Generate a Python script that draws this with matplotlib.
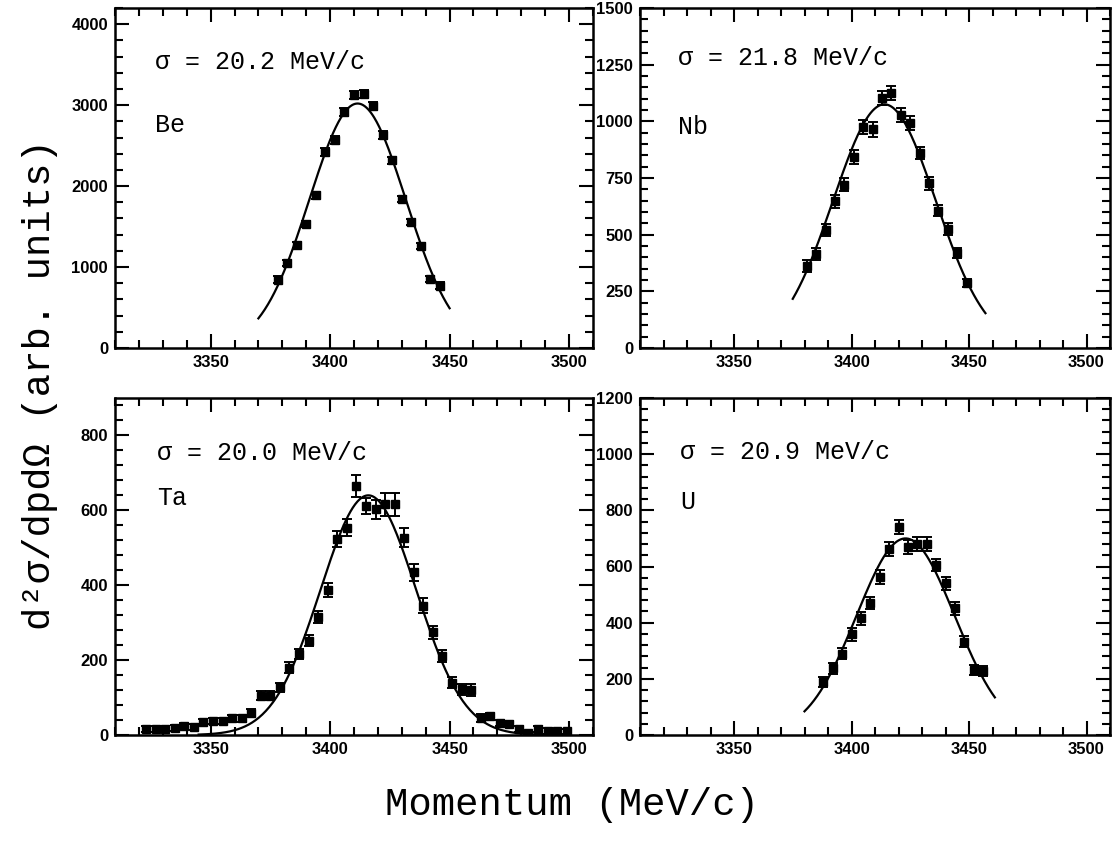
import numpy as np
import matplotlib
matplotlib.use("Agg")
import matplotlib.pyplot as plt
from matplotlib.ticker import MultipleLocator

# ---------------- data ----------------
be_p = [3378, 3382, 3386, 3390, 3394, 3398, 3402, 3406, 3410, 3414, 3418, 3422,
        3426, 3430, 3434, 3438, 3442, 3446]
be_y = [845, 1052, 1270, 1534, 1885, 2420, 2569, 2920, 3126, 3134, 2990, 2631,
        2318, 1843, 1555, 1258, 854, 771]
be_e = [40, 40, 40, 40, 40, 45, 45, 50, 50, 50, 50, 45, 45, 40, 40, 40, 40, 40]

nb_p = [3381, 3385, 3389, 3393, 3397, 3401, 3405, 3409, 3413, 3417, 3421, 3425,
        3429, 3433, 3437, 3441, 3445, 3449]
nb_y = [362, 414, 520, 647, 720, 842, 975, 965, 1104, 1126, 1027, 993,
        860, 727, 606, 525, 421, 288]
nb_e = [25, 25, 28, 28, 28, 30, 32, 32, 32, 32, 30, 30, 28, 28, 25, 25, 22, 18]

ta_p = [3323, 3327, 3331, 3335, 3339, 3343, 3347, 3351, 3355, 3359, 3363, 3367,
        3371, 3375, 3379, 3383, 3387, 3391, 3395, 3399, 3403, 3407, 3411, 3415,
        3419, 3423, 3427, 3431, 3435, 3439, 3443, 3447, 3451, 3455, 3459, 3463,
        3467, 3471, 3475, 3479, 3483, 3487, 3491, 3495, 3499]
ta_y = [15, 15, 15, 20, 25, 22, 35, 38, 38, 45, 45, 60,
        105, 105, 127, 180, 216, 252, 314, 387, 523, 554, 665, 612,
        603, 616, 616, 527, 434, 345, 274, 212, 140, 122, 120, 45,
        50, 32, 30, 15, 5, 15, 12, 10, 10]
ta_e = [8, 8, 8, 8, 8, 8, 8, 8, 8, 9, 9, 10,
        12, 12, 12, 14, 14, 15, 16, 18, 22, 22, 30, 22,
        25, 30, 30, 25, 22, 20, 18, 16, 15, 15, 15, 10,
        10, 8, 8, 8, 6, 8, 8, 6, 6]

u_p = [3388, 3392, 3396, 3400, 3404, 3408, 3412, 3416, 3420, 3424, 3428, 3432,
       3436, 3440, 3444, 3448, 3452, 3456]
u_y = [189, 237, 290, 358, 415, 471, 564, 663, 740, 668, 681, 681,
       606, 540, 451, 332, 233, 229]
u_e = [18, 20, 20, 22, 22, 22, 25, 25, 25, 25, 25, 25, 22, 22, 22, 20, 18, 18]

# Gaussian fit parameters (centre, amplitude, sigma, drawn range)
fit_center = [3411.5, 3414.0, 3416.0, 3423.0]
fit_amp = [3020, 1075, 640, 700]
fit_sigma = [20.2, 21.8, 20.0, 20.9]
fit_lo = [3370, 3375, 3345, 3380]
fit_hi = [3450, 3457, 3490, 3461]

targets = ["Be", "Nb", "Ta", "U"]
sigma_labels = ["20.2", "21.8", "20.0", "20.9"]
ylims = [4200, 1500, 900, 1200]
ymajor = [1000, 250, 200, 200]
yminor = [200, 50, 40, 40]
xticks = [3350, 3400, 3450, 3500]

# ---------------- figure ----------------
W, H = 1112, 842
fig = plt.figure(figsize=(W / 100, H / 100), dpi=100)

boxes = [(115, 8, 478, 340), (640, 8, 470, 340),
         (115, 398, 478, 337), (640, 398, 470, 337)]
data = [(be_p, be_y, be_e), (nb_p, nb_y, nb_e), (ta_p, ta_y, ta_e), (u_p, u_y, u_e)]
txt_pos = [(0.084, 0.841, 0.656), (0.081, 0.853, 0.65),
           (0.088, 0.837, 0.703), (0.085, 0.84, 0.69)]

mono = "Liberation Mono"
tickfont = "Liberation Sans"

for i, (l, t, w, h) in enumerate(boxes):
    ax = fig.add_axes([l / W, 1 - (t + h) / H, w / W, h / H])
    p, y, e = data[i]
    ax.errorbar(p, y, yerr=e, fmt="s", color="black", ms=5.5, capsize=3.5,
                elinewidth=1.4, capthick=1.4, zorder=3)
    xx = np.linspace(fit_lo[i], fit_hi[i], 300)
    ax.plot(xx, fit_amp[i] * np.exp(-(xx - fit_center[i]) ** 2 / (2 * fit_sigma[i] ** 2)),
            color="black", lw=1.6, zorder=2)
    ax.set_xlim(3310, 3510)
    ax.set_ylim(0, ylims[i])
    ax.set_xticks(xticks)
    ax.xaxis.set_minor_locator(MultipleLocator(10))
    ax.yaxis.set_major_locator(MultipleLocator(ymajor[i]))
    ax.yaxis.set_minor_locator(MultipleLocator(yminor[i]))
    ax.tick_params(which="both", direction="in", top=True, right=True, width=1.5)
    ax.tick_params(which="major", length=10, labelsize=12, pad=5)
    ax.tick_params(which="minor", length=5.5)
    for lab in ax.get_xticklabels() + ax.get_yticklabels():
        lab.set_fontweight("bold")
        lab.set_family(tickfont)
    for s in ax.spines.values():
        s.set_linewidth(1.8)
    tx, ty1, ty2 = txt_pos[i]
    ax.text(tx, ty1, "\u03c3 = " + sigma_labels[i] + " MeV/c", transform=ax.transAxes,
            family=mono, fontsize=18, va="center", ha="left")
    ax.text(tx, ty2, targets[i], transform=ax.transAxes,
            family=mono, fontsize=18, va="center", ha="left")

fig.text(40 / W, 1 - 385 / H, "d\u00b2\u03c3/dpd\u03a9 (arb. units)", rotation=90,
         family=mono, fontsize=28, ha="center", va="center")
fig.text(572 / W, 1 - 805 / H, "Momentum (MeV/c)", family=mono, fontsize=28,
         ha="center", va="center")

fig.savefig("out.png", dpi=100)
